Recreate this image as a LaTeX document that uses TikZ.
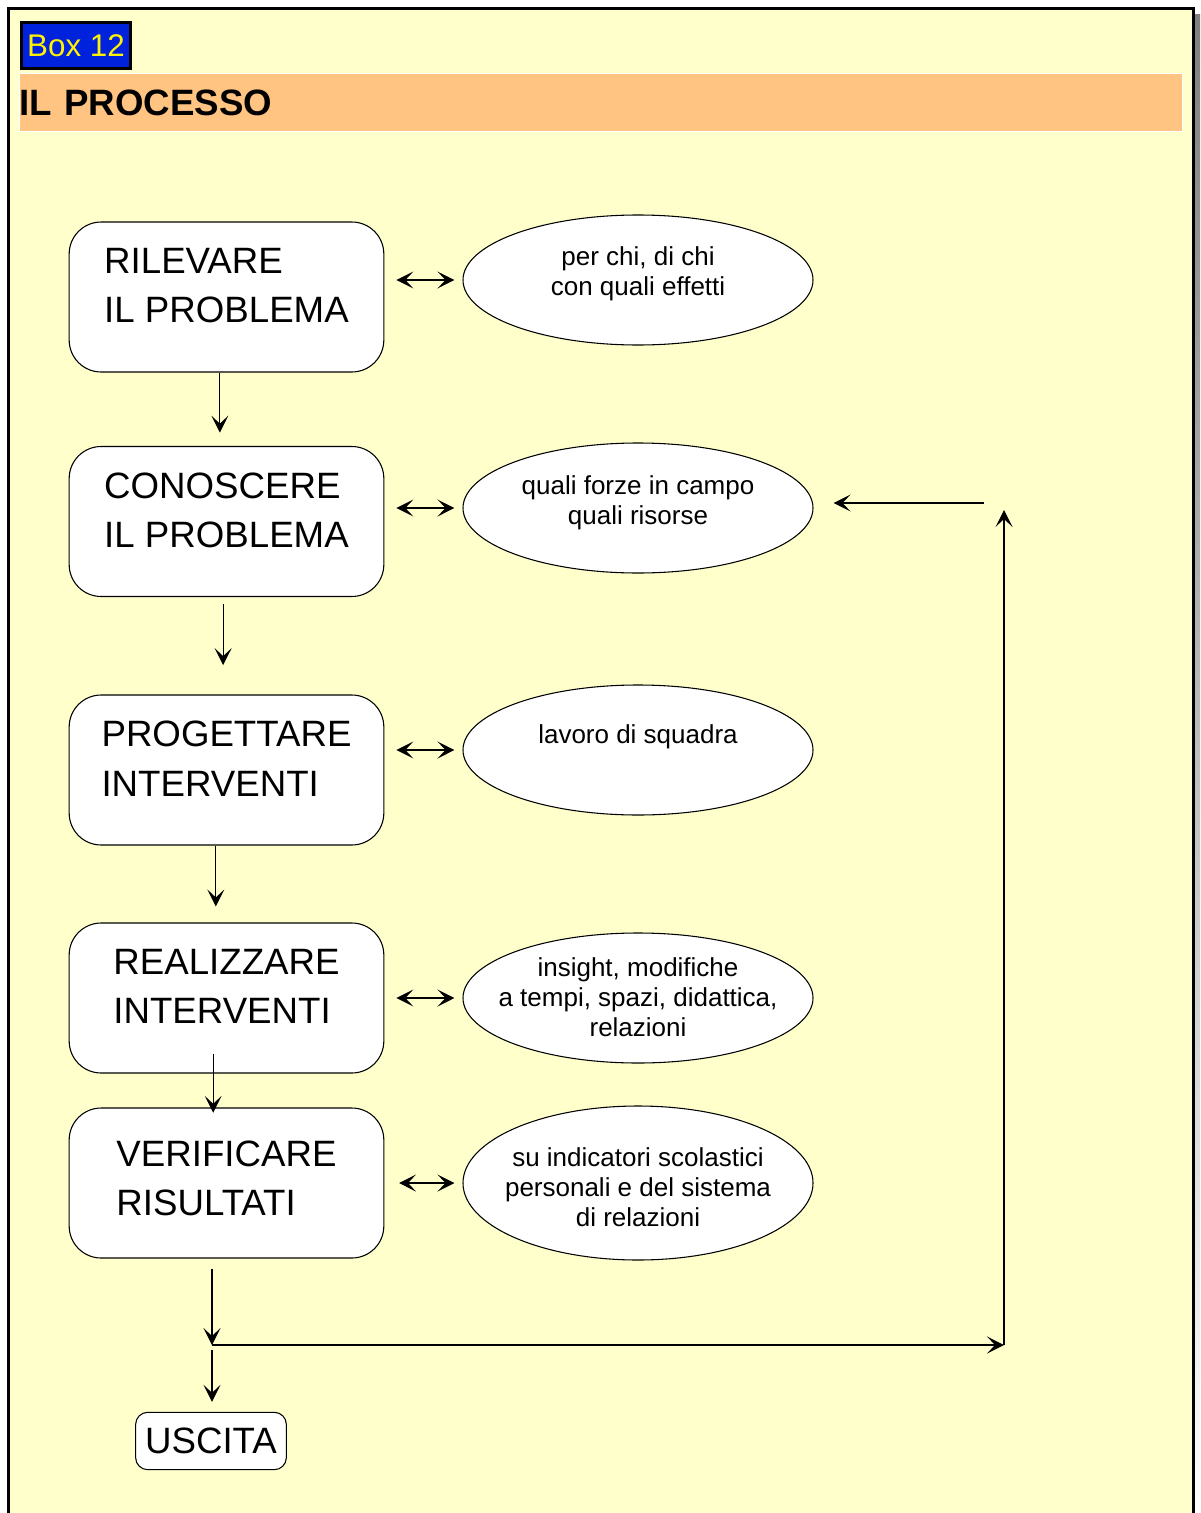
\documentclass[tikz,border=0pt]{standalone}
\usepackage{fontspec}
\setmainfont{Liberation Sans}
\usetikzlibrary{arrows.meta,shapes.geometric,positioning}
\definecolor{paper}{HTML}{FFFFCC}
\definecolor{tagblue}{HTML}{0022DD}
\definecolor{band}{HTML}{FFC382}
\definecolor{shade}{HTML}{808080}

\begin{document}
\begin{tikzpicture}[x=0.75pt,y=-0.75pt,
	stage/.style={draw,line width=0.8pt,fill=white,rounded corners=24pt,minimum width=236pt,minimum height=112.5pt,inner sep=0pt,align=left,text depth=17pt,font=\fontsize{27.5}{37}\selectfont},
	note/.style={draw,line width=0.8pt,fill=white,ellipse,minimum width=262.5pt,minimum height=97.5pt,inner sep=0pt},
	notetext/.style={inner sep=0pt,align=center,font=\fontsize{19.5}{22.5}\selectfont},
	flow/.style={-{Stealth[length=12.75pt,width=12.75pt,inset=6pt]},line width=0.9pt},
	link/.style={{Stealth[length=12.75pt,width=12.75pt,inset=6pt]}-{Stealth[length=12.75pt,width=12.75pt,inset=6pt]},line width=0.9pt,shorten <=9pt,shorten >=6pt}]
	\useasboundingbox (0,0) rectangle (1200,1513);
	% frame
	\fill[shade] (1193,15) rectangle (1200,1513);
	\draw[line width=2.25pt,fill=paper] (8,9) rectangle (1193,1540);
	\node[draw,line width=2.25pt,fill=tagblue,text=yellow,minimum width=81.75pt,minimum height=34.5pt,inner sep=0pt,font=\fontsize{23.5}{28}\selectfont] (tag) at (76,45.5) {Box 12};
	\node[fill=band,draw=white,line width=0.6pt,anchor=north west,minimum height=43.5pt,text width=872pt,inner sep=0pt,align=left,font=\bfseries\fontsize{27.5}{33}\selectfont] (head) at (19,73) {IL PROCESSO};
	% stages
	\node[stage] (b1) at (226.5,297) {RILEVARE\\IL PROBLEMA};
	\node[stage] (b2) at (226.5,521.5) {CONOSCERE\\IL PROBLEMA};
	\node[stage] (b3) at (226.5,770) {PROGETTARE\\INTERVENTI};
	\node[stage] (b4) at (226.5,998) {REALIZZARE\\INTERVENTI};
	\node[stage,text depth=7pt] (b5) at (226.5,1183) {VERIFICARE\\RISULTATI};
	\node[draw,line width=0.8pt,fill=white,rounded corners=9pt,minimum width=113pt,minimum height=43pt,inner sep=0pt,font=\fontsize{27.5}{33}\selectfont] (out) at (211,1441) {USCITA};
	% notes
	\node[note] (e1) at (638,280) {};
	\node[note] (e2) at (638,508) {};
	\node[note] (e3) at (638,750) {};
	\node[note] (e4) at (638,998) {};
	\node[note,minimum height=115.5pt] (e5) at (638,1183) {};
	\node[notetext] (t1) at (638,274) {per chi, di chi\\con quali effetti};
	\node[notetext] (t2) at (638,503) {quali forze in campo\\quali risorse};
	\node[notetext] (t3) at (638,737) {lavoro di squadra};
	\node[notetext] (t4) at (638,997) {insight, modifiche\\a tempi, spazi, didattica,\\relazioni};
	\node[notetext] (t5) at (638,1187) {su indicatori scolastici\\personali e del sistema\\di relazioni};
	\draw[link] (b1.east |- e1.west) -- (e1.west);
	\draw[link] (b2.east |- e2.west) -- (e2.west);
	\draw[link] (b3.east |- e3.west) -- (e3.west);
	\draw[link] (b4.east |- e4.west) -- (e4.west);
	\draw[link,shorten <=11pt] (b5.east |- e5.west) -- (e5.west);
	% flow
	\draw[flow,shorten >=10pt] ([xshift=-5pt]b1.south) -- ([xshift=-5pt]b2.north);
	\draw[flow,shorten <=5pt,shorten >=22pt] ([xshift=-2.5pt]b2.south) -- ([xshift=-2.5pt]b3.north);
	\draw[flow,shorten >=12pt] ([xshift=-8pt]b3.south) -- ([xshift=-8pt]b4.north);
	\draw[flow,shorten <=-15pt,shorten >=-4pt] ([xshift=-10pt]b4.south) -- ([xshift=-10pt]b5.north);
	\coordinate (join) at (212,1345);
	\coordinate (corner) at (1004,1345);
	\coordinate (up) at (1004,510);
	\coordinate (back) at (984,503);
	\draw[flow,shorten <=7.5pt] (b5.south -| join) -- (join);
	\draw[flow,shorten <=3.75pt,shorten >=7.5pt] (join) -- (out.north -| join);
	\draw[flow] (join) -- (corner);
	\draw[flow] (corner) -- (up);
	\draw[flow,shorten >=15pt] (back) -- (e2.east |- back);
\end{tikzpicture}
\end{document}
